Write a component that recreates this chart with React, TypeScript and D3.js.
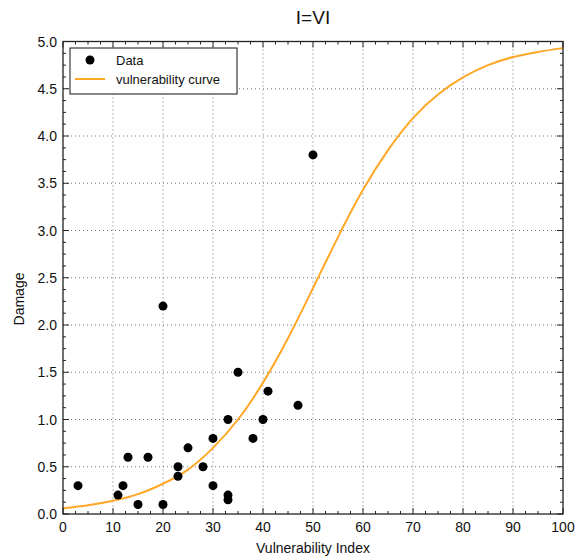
import React from "react";
import * as d3 from "d3";

const dataX = [3, 11, 12, 13, 15, 17, 20, 20, 23, 23, 25, 28, 30, 30, 33, 33, 33, 35, 38, 40, 41, 47, 50];
const dataY = [0.3, 0.2, 0.3, 0.6, 0.1, 0.6, 2.2, 0.1, 0.5, 0.4, 0.7, 0.5, 0.8, 0.3, 1.0, 0.2, 0.15, 1.5, 0.8, 1.0, 1.3, 1.15, 3.8];

const curveX = [0, 5, 10, 15, 20, 25, 30, 35, 40, 45, 50, 55, 60, 65, 70, 75, 80, 85, 90, 95, 100];
const curveY = [0.06, 0.092, 0.14, 0.21, 0.32, 0.47, 0.7, 1.0, 1.39, 1.86, 2.39, 2.93, 3.43, 3.85, 4.19, 4.44, 4.62, 4.75, 4.835, 4.89, 4.93];

const xTicks = [0, 10, 20, 30, 40, 50, 60, 70, 80, 90, 100];
const yTicks = [0, 0.5, 1.0, 1.5, 2.0, 2.5, 3.0, 3.5, 4.0, 4.5, 5.0];

const W = 580;
const H = 558;
const L = 63, R = 563, T = 41.5, B = 514;
const FONT = "'Liberation Sans', Arial, Helvetica, sans-serif";

export default function App() {
  const x = d3.scaleLinear().domain([0, 100]).range([L, R]);
  const y = d3.scaleLinear().domain([0, 5]).range([B, T]);

  const xMinor = d3.range(0, 100.001, 2.5).filter((v) => !xTicks.includes(v));
  const yMinor = d3.range(0, 5.0001, 0.125).filter((v) => !yTicks.some((t) => Math.abs(t - v) < 1e-9));

  const line = d3
    .line<number>()
    .x((_, i) => x(curveX[i]))
    .y((d) => y(d))
    .curve(d3.curveNatural);

  const majorLen = 6;
  const minorLen = 3;
  const gridStyle = { stroke: "#666", strokeWidth: 0.9, strokeDasharray: "1,3" };

  return (
    <svg width={W} height={H} style={{ position: "absolute", left: 0, top: 0, background: "#fff" }}>
      <rect x={0} y={0} width={W} height={H} fill="#fff" />
      {/* grid */}
      {xTicks.slice(1, -1).map((t) => (
        <line key={"gx" + t} x1={x(t)} x2={x(t)} y1={T} y2={B} {...gridStyle} />
      ))}
      {yTicks.slice(1, -1).map((t) => (
        <line key={"gy" + t} x1={L} x2={R} y1={y(t)} y2={y(t)} {...gridStyle} />
      ))}

      {/* curve */}
      <path d={line(curveY) || ""} fill="none" stroke="#ffa726" strokeWidth={2} />

      {/* points */}
      {dataX.map((d, i) => (
        <circle key={"p" + i} cx={x(d)} cy={y(dataY[i])} r={4.5} fill="#000" />
      ))}

      {/* ticks */}
      <g stroke="#222" strokeWidth={1}>
        {xTicks.map((t) => (
          <g key={"xt" + t}>
            <line x1={x(t)} x2={x(t)} y1={B} y2={B - majorLen} />
            <line x1={x(t)} x2={x(t)} y1={T} y2={T + majorLen} />
          </g>
        ))}
        {xMinor.map((t) => (
          <g key={"xm" + t}>
            <line x1={x(t)} x2={x(t)} y1={B} y2={B - minorLen} />
            <line x1={x(t)} x2={x(t)} y1={T} y2={T + minorLen} />
          </g>
        ))}
        {yTicks.map((t) => (
          <g key={"yt" + t}>
            <line x1={L} x2={L + majorLen} y1={y(t)} y2={y(t)} />
            <line x1={R} x2={R - majorLen} y1={y(t)} y2={y(t)} />
          </g>
        ))}
        {yMinor.map((t) => (
          <g key={"ym" + t}>
            <line x1={L} x2={L + minorLen} y1={y(t)} y2={y(t)} />
            <line x1={R} x2={R - minorLen} y1={y(t)} y2={y(t)} />
          </g>
        ))}
      </g>

      {/* spines */}
      <rect x={L} y={T} width={R - L} height={B - T} fill="none" stroke="#222" strokeWidth={1.3} />

      {/* tick labels */}
      <g fontFamily={FONT} fontSize={14} fill="#111">
        {xTicks.map((t) => (
          <text key={"xl" + t} x={x(t)} y={B + 18} textAnchor="middle">
            {d3.format("d")(t)}
          </text>
        ))}
        {yTicks.map((t) => (
          <text key={"yl" + t} x={L - 6} y={y(t) + 5} textAnchor="end">
            {d3.format(".1f")(t)}
          </text>
        ))}
      </g>

      {/* axis labels */}
      <text x={(L + R) / 2} y={553} textAnchor="middle" fontFamily={FONT} fontSize={14} fill="#111">
        Vulnerability Index
      </text>
      <text
        transform={`translate(24, 299) rotate(-90)`}
        textAnchor="middle"
        fontFamily={FONT}
        fontSize={14}
        fill="#111"
      >
        Damage
      </text>

      {/* title */}
      <text x={(L + R) / 2} y={24} textAnchor="middle" fontFamily={FONT} fontSize={19} fill="#111">
        I=VI
      </text>

      {/* legend */}
      <g>
        <rect x={70} y={48} width={167} height={46} fill="#fff" stroke="#111" strokeWidth={1} />
        <circle cx={90} cy={60} r={4.5} fill="#000" />
        <line x1={75} x2={105} y1={79} y2={79} stroke="#ffa726" strokeWidth={2} />
        <text x={116} y={64.5} fontFamily={FONT} fontSize={13} fill="#111">
          Data
        </text>
        <text x={116} y={84} fontFamily={FONT} fontSize={13} fill="#111">
          vulnerability curve
        </text>
      </g>
    </svg>
  );
}
